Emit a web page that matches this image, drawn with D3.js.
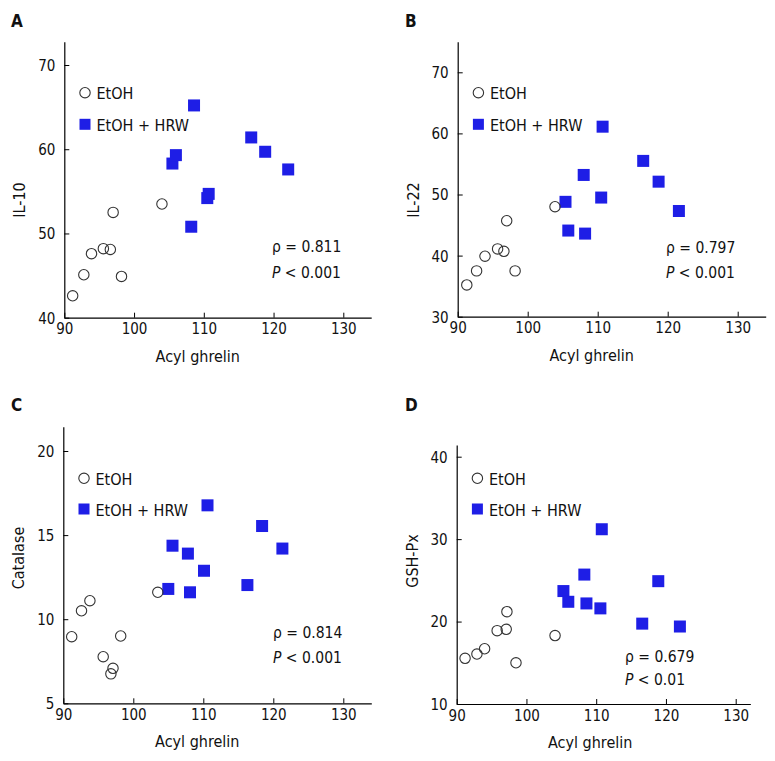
<!DOCTYPE html>
<html>
<head>
<meta charset="utf-8">
<script src="https://cdn.jsdelivr.net/npm/d3@7"></script>
<style>
  html, body { margin: 0; padding: 0; background: #fff; }
  svg { display: block; }
  text { font-family: "DejaVu Sans Condensed", "DejaVu Sans", sans-serif; fill: #111; }
</style>
</head>
<body>
<svg id="chart" width="775" height="761"></svg>
<script>
// ---------------- DATA ----------------
const panelLetters = ["A", "B", "C", "D"];
const yTitles = ["IL-10", "IL-22", "Catalase", "GSH-Px"];
const xTitle = "Acyl ghrelin";
const legendLabels = ["EtOH", "EtOH + HRW"];
const rhoLabels = ["0.811", "0.797", "0.814", "0.679"];
const pLabels = ["< 0.001", "< 0.001", "< 0.001", "< 0.01"];

const xTicks = [90, 100, 110, 120, 130];
const yTicksA = [40, 50, 60, 70];
const yTicksB = [30, 40, 50, 60, 70];
const yTicksC = [5, 10, 15, 20];
const yTicksD = [10, 20, 30, 40];

// Panel A: IL-10
const etohX_A = [91.2, 92.8, 93.9, 95.6, 96.6, 97.0, 98.2, 104.0];
const etohY_A = [42.6, 45.1, 47.6, 48.2, 48.1, 52.5, 44.9, 53.5];
const hrwX_A  = [108.6, 105.5, 106.0, 108.2, 110.5, 110.7, 116.8, 118.8, 122.1];
const hrwY_A  = [65.2, 58.3, 59.3, 50.8, 54.2, 54.7, 61.4, 59.7, 57.6];

// Panel B: IL-22
const etohX_B = [91.3, 92.7, 93.9, 95.7, 96.6, 97.0, 98.2, 103.9];
const etohY_B = [35.2, 37.5, 39.9, 41.1, 40.7, 45.7, 37.5, 48.0];
const hrwX_B  = [110.7, 105.4, 105.8, 108.0, 108.2, 110.5, 116.5, 118.7, 121.6];
const hrwY_B  = [61.1, 48.8, 44.1, 53.2, 43.6, 49.5, 55.5, 52.1, 47.3];

// Panel C: Catalase
const etohX_C = [91.2, 92.6, 93.8, 95.7, 97.1, 96.8, 98.2, 103.5];
const etohY_C = [8.96, 10.5, 11.1, 7.77, 7.08, 6.75, 9.0, 11.6];
const hrwX_C  = [110.6, 105.6, 107.8, 105.0, 108.1, 110.1, 116.3, 118.4, 121.3];
const hrwY_C  = [16.77, 14.37, 13.9, 11.8, 11.6, 12.88, 12.03, 15.54, 14.2];

// Panel D: GSH-Px
const etohX_D = [91.2, 92.9, 94.0, 95.8, 97.1, 97.2, 98.5, 104.1];
const etohY_D = [15.54, 16.06, 16.7, 18.9, 19.06, 21.2, 15.0, 18.3];
const hrwX_D  = [110.8, 108.3, 105.3, 106.0, 108.6, 110.6, 118.9, 116.6, 122.0];
const hrwY_D  = [31.2, 25.7, 23.7, 22.4, 22.2, 21.6, 24.9, 19.75, 19.4];

// ---------------- LAYOUT (pixels / style) ----------------
const layouts = [
  { left: 64.3, px130: 343.3, xMax: 134, bottom: 317.7, yTopTickPx: 65,   top: 41.7,
    yTicks: yTicksA, etohX: etohX_A, etohY: etohY_A, hrwX: hrwX_A, hrwY: hrwY_A,
    letter: [11, 27], legY: [92.7, 124.3], ann: [272, 252, 278], yTitleY: 200 },
  { left: 457.7, px130: 737.7, xMax: 134, bottom: 316.7, yTopTickPx: 72.3, top: 41.7,
    yTicks: yTicksB, etohX: etohX_B, etohY: etohY_B, hrwX: hrwX_B, hrwY: hrwY_B,
    letter: [405, 27], legY: [92.7, 124.3], ann: [666, 253, 278], yTitleY: 200 },
  { left: 63.3, px130: 343.3, xMax: 134, bottom: 703.3, yTopTickPx: 451,  top: 426.7,
    yTicks: yTicksC, etohX: etohX_C, etohY: etohY_C, hrwX: hrwX_C, hrwY: hrwY_C,
    letter: [11, 411], legY: [478.3, 509], ann: [273, 638, 663], yTitleY: 558 },
  { left: 456.7, px130: 735.7, xMax: 132.1, bottom: 704, yTopTickPx: 456.7, top: 445,
    yTicks: yTicksD, etohX: etohX_D, etohY: etohY_D, hrwX: hrwX_D, hrwY: hrwY_D,
    letter: [405, 411], legY: [478.3, 509], ann: [625, 661.7, 685], yTitleY: 561 }
];

const BLUE = "#1e1ee6";
const svg = d3.select("#chart");

layouts.forEach((L, i) => {
  const yt = L.yTicks;
  const yLo = yt[0], yHiTick = yt[yt.length - 1];
  const perUnitY = (L.bottom - L.yTopTickPx) / (yHiTick - yLo);
  const yMax = yLo + (L.bottom - L.top) / perUnitY;
  const perUnitX = (L.px130 - L.left) / 40;
  const right = L.left + (L.xMax - 90) * perUnitX;

  const x = d3.scaleLinear().domain([90, L.xMax]).range([L.left, right]);
  const y = d3.scaleLinear().domain([yLo, yMax]).range([L.bottom, L.top]);

  const g = svg.append("g");

  // axes
  const xAxis = d3.axisBottom(x).tickValues(xTicks).tickSizeInner(-5).tickSizeOuter(0).tickPadding(6);
  const yAxis = d3.axisLeft(y).tickValues(yt).tickSizeInner(-5).tickSizeOuter(0).tickPadding(9);

  const gx = g.append("g").attr("transform", `translate(0,${L.bottom})`).call(xAxis);
  const gy = g.append("g").attr("transform", `translate(${L.left},0)`).call(yAxis);
  [gx, gy].forEach(a => {
    a.selectAll("path.domain").attr("stroke", "#000").attr("stroke-width", 1.2);
    a.selectAll(".tick line").attr("stroke", "#000").attr("stroke-width", 1);
    a.selectAll(".tick text").attr("font-size", 15)
      .attr("font-family", '"DejaVu Sans Condensed", "DejaVu Sans", sans-serif').attr("fill", "#111");
  });
  gy.selectAll(".tick text").attr("dy", "0.36em");

  // panel letter
  g.append("text").attr("x", L.letter[0]).attr("y", L.letter[1])
    .attr("font-size", 17).attr("font-weight", "bold").attr("font-family", '"DejaVu Sans", sans-serif')
    .text(panelLetters[i]);

  // axis titles
  g.append("text").attr("x", x(110) - 6).attr("y", L.bottom + 44)
    .attr("text-anchor", "middle").attr("font-size", 16).text(xTitle);
  g.append("text").attr("transform", `translate(${L.left - 39},${L.yTitleY}) rotate(-90)`)
    .attr("text-anchor", "middle").attr("font-size", 16).text(yTitles[i]);

  // data
  const hrw = L.hrwX.map((v, k) => [v, L.hrwY[k]]);
  const etoh = L.etohX.map((v, k) => [v, L.etohY[k]]);
  g.selectAll("rect.hrw").data(hrw).enter().append("rect").attr("class", "hrw")
    .attr("x", d => x(d[0]) - 6).attr("y", d => y(d[1]) - 6)
    .attr("width", 12).attr("height", 12).attr("fill", BLUE);
  g.selectAll("circle.etoh").data(etoh).enter().append("circle").attr("class", "etoh")
    .attr("cx", d => x(d[0])).attr("cy", d => y(d[1])).attr("r", 5.2)
    .attr("fill", "none").attr("stroke", "#333").attr("stroke-width", 1.1);

  // legend
  const lx = L.left + 20.7;
  g.append("circle").attr("cx", lx).attr("cy", L.legY[0]).attr("r", 5.2)
    .attr("fill", "none").attr("stroke", "#333").attr("stroke-width", 1.1);
  g.append("text").attr("x", lx + 11.5).attr("y", L.legY[0] + 6.6).attr("font-size", 16).text(legendLabels[0]);
  g.append("rect").attr("x", lx - 5.5).attr("y", L.legY[1] - 5.5).attr("width", 11).attr("height", 11).attr("fill", BLUE);
  g.append("text").attr("x", lx + 11.5).attr("y", L.legY[1] + 6.7).attr("font-size", 16).text(legendLabels[1]);

  // annotation
  g.append("text").attr("x", L.ann[0]).attr("y", L.ann[1]).attr("font-size", 15.5)
    .text("\u03C1 = " + rhoLabels[i]);
  const pt = g.append("text").attr("x", L.ann[0]).attr("y", L.ann[2]).attr("font-size", 15.5);
  pt.append("tspan").attr("font-style", "italic").text("P");
  pt.append("tspan").text(" " + pLabels[i]);
});
</script>
</body>
</html>
